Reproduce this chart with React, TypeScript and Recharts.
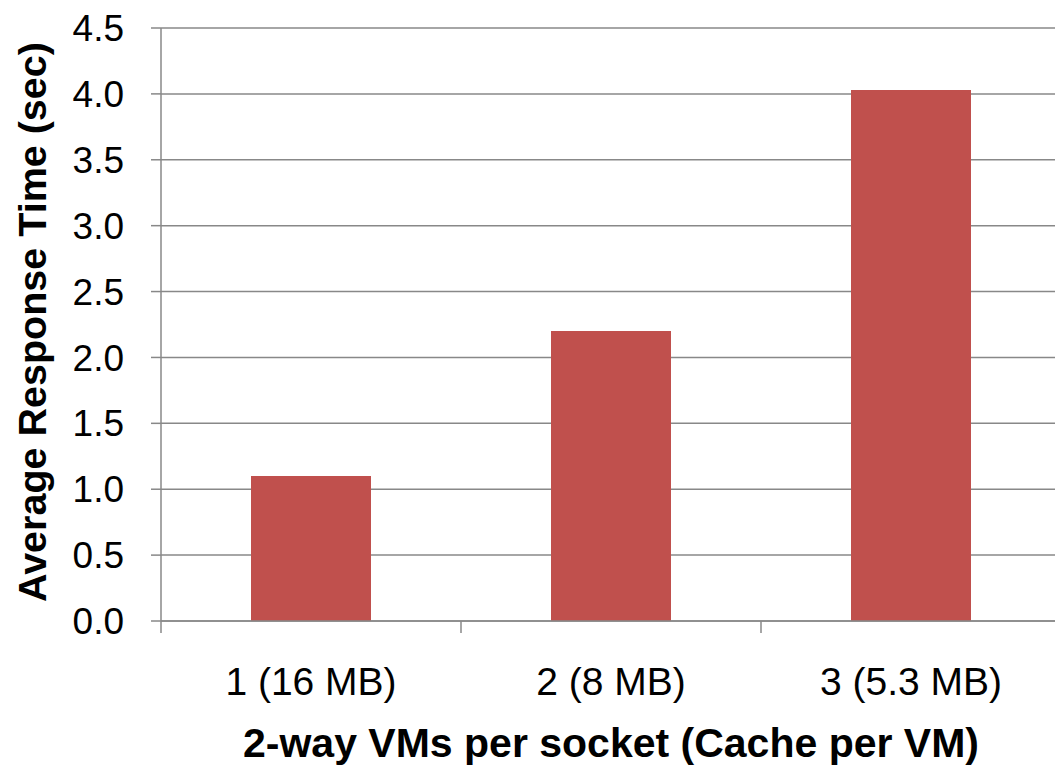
import { BarChart, Bar, XAxis, YAxis, CartesianGrid, Label } from 'recharts';

const categories = ['1 (16 MB)', '2 (8 MB)', '3 (5.3 MB)'];
const responseTimes = [1.1, 2.2, 4.03];
const yTicks = [0, 0.5, 1, 1.5, 2, 2.5, 3, 3.5, 4, 4.5];

const xTitle = '2-way VMs per socket (Cache per VM)';
const yTitle = 'Average Response Time (sec)';

const data = categories.map((name, i) => ({ name, time: responseTimes[i] }));

const FONT = '"Liberation Sans", Arial, sans-serif';
const AXIS_GRAY = '#888888';
const CHART_W = 1061;
const CHART_H = 768;
const MARGIN_TOP = 28;
const Y_AXIS_W = 161;
const X_AXIS_H = 147;
const PLOT_W = CHART_W - Y_AXIS_W;
const BAND = PLOT_W / categories.length;
const AXIS_Y = CHART_H - X_AXIS_H;

// category label at band centre, tick mark on the band's left edge
function CategoryTick(props: any) {
  const { x, payload } = props;
  const edge = x - BAND / 2;
  return (
    <g>
      <line x1={edge} x2={edge} y1={AXIS_Y} y2={AXIS_Y + 12} stroke={AXIS_GRAY} strokeWidth={1.5} />
      <text x={x} y={AXIS_Y + 74} textAnchor="middle" fontSize={39} fontFamily={FONT} fill="#000">
        {payload.value}
      </text>
    </g>
  );
}

function XTitle() {
  return (
    <text x={Y_AXIS_W + PLOT_W / 2} y={757} textAnchor="middle" fontSize={41} fontWeight="bold" fontFamily={FONT} fill="#000">
      {xTitle}
    </text>
  );
}

function YTitle() {
  const cx = 46;
  const cy = 322;
  return (
    <text x={cx} y={cy} transform={`rotate(-90 ${cx} ${cy})`} textAnchor="middle" fontSize={39.5} fontWeight="bold" fontFamily={FONT} fill="#000">
      {yTitle}
    </text>
  );
}

export default function App() {
  return (
    <div style={{ position: 'absolute', left: 0, top: 0, width: 1055, height: 768, overflow: 'hidden', background: '#fff' }}>
      <BarChart width={CHART_W} height={CHART_H} data={data} margin={{ top: MARGIN_TOP, right: 0, left: 0, bottom: 0 }}>
        <CartesianGrid vertical={false} stroke={AXIS_GRAY} strokeWidth={1.5} />
        <XAxis
          dataKey="name"
          height={X_AXIS_H}
          axisLine={{ stroke: AXIS_GRAY, strokeWidth: 1.5 }}
          tickLine={false}
          tick={<CategoryTick />}
          interval={0}
        >
          <Label content={XTitle} />
        </XAxis>
        <YAxis
          width={Y_AXIS_W}
          domain={[0, 4.5]}
          ticks={yTicks}
          tickFormatter={(v: number) => v.toFixed(1)}
          tick={{ fontSize: 37, fontFamily: FONT, fill: '#000' }}
          tickSize={10}
          tickMargin={27}
          axisLine={{ stroke: AXIS_GRAY, strokeWidth: 1.5 }}
          tickLine={{ stroke: AXIS_GRAY, strokeWidth: 1.5 }}
        >
          <Label content={YTitle} />
        </YAxis>
        <Bar dataKey="time" fill="#C0504D" barSize={120} isAnimationActive={false} />
      </BarChart>
    </div>
  );
}
